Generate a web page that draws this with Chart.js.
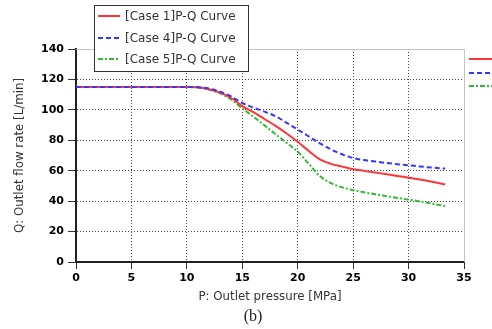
<!DOCTYPE html>
<html>
<head>
<meta charset="utf-8">
<script src="https://cdn.jsdelivr.net/npm/chart.js@4"></script>
<style>
  body { margin: 0; background: #fff; }
  #wrap { width: 492px; height: 329px; }
</style>
</head>
<body>
<div id="wrap"><canvas id="pqChart" width="492" height="329"></canvas></div>
<script>
// Outlet pressure [MPa]
const pressure = [0, 5, 10, 11, 12, 13, 14, 15, 16, 17, 18, 19, 20, 21, 22, 23, 24, 25, 26, 27, 28, 29, 30, 31, 32, 33.3];
// Outlet flow rate [L/min]
const case1 = [115, 115, 115, 114.8, 113.6, 111.3, 107.8, 102.5, 98.5, 94, 89.5, 84.5, 79, 73, 67.5, 64.5, 62.7, 61, 59.9, 58.8, 57.7, 56.6, 55.4, 54.2, 52.9, 51];
const case4 = [115, 115, 115, 114.9, 114, 112, 108.8, 104.5, 101.5, 98.8, 95.8, 91.5, 87, 82.5, 78, 74, 70.8, 68.3, 67, 66, 65.1, 64.3, 63.6, 62.8, 62.1, 61.4];
const case5 = [115, 115, 115, 114.7, 113.3, 110.8, 106.8, 101, 95.5, 89.8, 84, 78.3, 72.5, 64.5, 56.5, 51.8, 49.1, 47.2, 45.8, 44.5, 43.3, 42.1, 41, 39.8, 38.5, 36.8];
const seriesNames = ["[Case 1]P-Q Curve", "[Case 4]P-Q Curve", "[Case 5]P-Q Curve"];
const xTicks = [0, 5, 10, 15, 20, 25, 30, 35];
const yTicks = [0, 20, 40, 60, 80, 100, 120, 140];

const colors = ["#ff3535", "#3535ff", "#35b935"];
const dashes = [[], [5, 3], [5, 2, 2, 2]];
const drawOrder = [1, 0, 2]; // blue on top, green underneath

function toPoints(ys) {
  return pressure.map((p, i) => ({ x: p, y: ys[i] }));
}

const datasets = [case1, case4, case5].map((ys, i) => ({
  label: seriesNames[i],
  data: toPoints(ys),
  borderColor: colors[i],
  borderWidth: 2,
  borderDash: dashes[i],
  pointRadius: 0,
  fill: false,
  order: drawOrder[i],
  cubicInterpolationMode: "monotone"
}));

// legend box, outer frame and caption
const extras = {
  id: "extras",
  afterDraw(chart) {
    const ctx = chart.ctx;
    const a = chart.chartArea;
    ctx.save();

    // top and right frame
    ctx.strokeStyle = "#c4c4c4";
    ctx.lineWidth = 1;
    ctx.beginPath();
    ctx.moveTo(a.left, a.top + 0.5);
    ctx.lineTo(a.right + 0.5, a.top + 0.5);
    ctx.lineTo(a.right + 0.5, a.bottom);
    ctx.stroke();

    // legend inside
    ctx.fillStyle = "#fff";
    ctx.fillRect(94, 5, 154, 66);
    ctx.strokeStyle = "#333";
    ctx.strokeRect(94.5, 5.5, 154, 66);
    ctx.font = "12px 'DejaVu Sans'";
    ctx.textBaseline = "middle";
    const rows = [16, 38, 59];
    rows.forEach((y, i) => {
      ctx.strokeStyle = colors[i];
      ctx.lineWidth = 2;
      ctx.setLineDash(dashes[i]);
      ctx.beginPath();
      ctx.moveTo(98, y);
      ctx.lineTo(120, y);
      ctx.stroke();
      ctx.setLineDash([]);
      ctx.fillStyle = "#333";
      ctx.fillText(seriesNames[i], 125, y + 0.5);
    });

    // cut off legend on the right
    [59, 73, 86].forEach((y, i) => {
      ctx.strokeStyle = colors[i];
      ctx.lineWidth = 2;
      ctx.setLineDash(dashes[i]);
      ctx.beginPath();
      ctx.moveTo(469, y);
      ctx.lineTo(492, y);
      ctx.stroke();
    });
    ctx.setLineDash([]);

    // caption
    ctx.fillStyle = "#222";
    ctx.font = "16px 'Liberation Serif'";
    ctx.textAlign = "center";
    ctx.fillText("(b)", 253, 317);
    ctx.restore();
  }
};

function gridColor(lo, hi) {
  return (c) => (c.tick && (c.tick.value === lo || c.tick.value === hi)) ? "rgba(0,0,0,0)" : "#444";
}

new Chart(document.getElementById("pqChart"), {
  type: "line",
  data: { datasets: datasets },
  options: {
    responsive: false,
    animation: false,
    layout: { padding: { top: 49, right: 28, left: 0, bottom: 0 } },
    plugins: {
      legend: { display: false },
      tooltip: { enabled: false }
    },
    scales: {
      x: {
        type: "linear",
        min: 0,
        max: 35,
        afterBuildTicks: (s) => { s.ticks = xTicks.map(v => ({ value: v })); },
        afterFit: (s) => {
          s.height = 67;
          s.paddingLeft = 0; s.paddingRight = 0; s.paddingTop = 0; s.paddingBottom = 0;
        },
        ticks: {
          color: "#000",
          padding: 3,
          maxRotation: 0,
          font: { family: "'DejaVu Sans'", size: 11, weight: "bold" }
        },
        grid: {
          color: gridColor(0, 35),
          lineWidth: 1,
          tickColor: "#333",
          tickLength: 7,
          tickWidth: 1,
          tickBorderDash: []
        },
        border: { color: "#222", width: 2, dash: [1, 2] },
        title: {
          display: true,
          text: "P: Outlet pressure [MPa]",
          color: "#333",
          font: { family: "'DejaVu Sans'", size: 11.8 },
          padding: { top: 0, bottom: 25 }
        }
      },
      y: {
        min: 0,
        max: 140,
        afterBuildTicks: (s) => { s.ticks = yTicks.map(v => ({ value: v })); },
        afterFit: (s) => {
          s.width = 76;
          s.paddingLeft = 0; s.paddingRight = 0; s.paddingTop = 0; s.paddingBottom = 0;
        },
        ticks: {
          color: "#000",
          padding: 4,
          font: { family: "'DejaVu Sans'", size: 11, weight: "bold" }
        },
        grid: {
          color: gridColor(0, 140),
          lineWidth: 1,
          tickColor: "#333",
          tickLength: 8,
          tickWidth: 1,
          tickBorderDash: []
        },
        border: { color: "#222", width: 2, dash: [1, 2] },
        title: {
          display: true,
          text: "Q: Outlet flow rate [L/min]",
          color: "#333",
          font: { family: "'DejaVu Sans'", size: 11.8 },
          padding: { top: 13, bottom: 0 }
        }
      }
    }
  },
  plugins: [extras]
});
</script>
</body>
</html>
